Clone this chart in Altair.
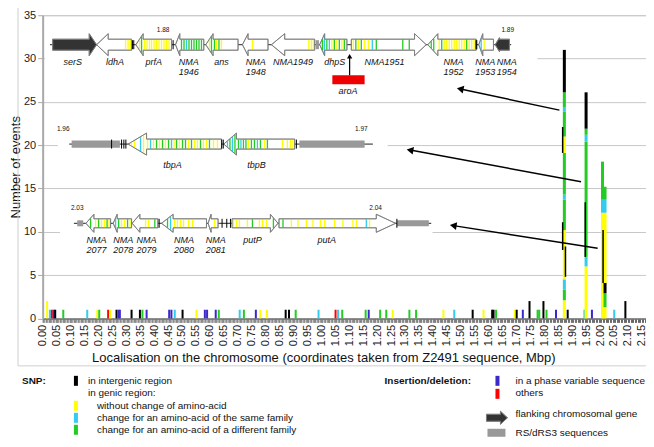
import altair as alt
import pandas as pd
import numpy as np

# ---------------- categories / colours ----------------
K, YL, CY, GR, BL, RD = ("intergenic", "synonymous", "same family", "different family",
                         "phase variable indel", "other indel")
CAT_DOMAIN = [K, YL, CY, GR, BL, RD]
CAT_COLORS = ["#000000", "#ffff00", "#33ccee", "#22cc22", "#3b28c8", "#ff0000"]
CMAP = dict(zip(CAT_DOMAIN, CAT_COLORS))

# ---------------- main chart: single events ----------------
LOW_POS = [0.016, 0.026, 0.033, 0.040, 0.045, 0.074, 0.160, 0.196, 0.203, 0.235, 0.243,
           0.265, 0.272, 0.277, 0.319, 0.349, 0.358, 0.373, 0.454, 0.462, 0.474, 0.502,
           0.552, 0.582, 0.590, 0.621, 0.632, 0.707, 0.722, 0.765, 0.781, 0.805, 0.872,
           0.884, 0.908, 0.990, 1.051, 1.060, 1.075, 1.159, 1.170, 1.211, 1.233, 1.256,
           1.316, 1.340, 1.438, 1.477, 1.543, 1.582, 1.613, 1.618, 1.627, 1.694, 1.701,
           1.723, 1.747, 1.776, 1.782, 1.797, 1.808, 1.842, 1.884, 1.944, 1.971, 2.051,
           2.091]
LOW_CAT = [YL, CY, RD, BL, K, GR, CY, YL, GR, RD, YL,
           K, BL, BL, K, K, GR, BL, BL, BL, CY, K,
           YL, BL, BL, BL, GR, CY, GR, BL, YL, YL, K,
           K, GR, CY, RD, CY, GR, GR, BL, GR, GR, YL,
           GR, GR, YL, CY, K, YL, K, K, GR, YL, K,
           BL, K, GR, GR, K, GR, BL, K, CY, BL, CY,
           K]
LOW_N = [2, 1, 1, 1, 1, 1, 1, 1, 1, 1, 1,
         1, 1, 1, 1, 1, 1, 1, 1, 1, 1, 1,
         1, 1, 1, 1, 1, 1, 1, 1, 1, 1, 1,
         1, 1, 1, 1, 1, 1, 1, 1, 1, 1, 1,
         1, 1, 1, 1, 1, 1, 1, 1, 1, 1, 1,
         1, 2, 1, 1, 2, 1, 1, 1, 1, 1, 1,
         2]

# hot spots (stacked, cumulative tops)
TALL_POS = [1.872, 1.950, 2.009, 2.018]
TALL_CATS = [
    [YL, GR, CY, YL, GR, CY, GR, YL, GR, CY, GR, K],
    [YL, CY, GR, CY, GR, K],
    [YL, CY, GR],
    [YL, GR, K, YL, CY, GR],
]
TALL_TOPS = [
    [2.1, 3.3, 4.5, 10.2, 13.7, 14.3, 19.1, 21.0, 23.9, 24.4, 26.1, 31.0],
    [6.0, 7.1, 20.4, 21.2, 21.9, 26.1],
    [12.2, 13.7, 18.1],
    [1.3, 2.9, 4.1, 12.2, 13.7, 15.2],
]
# thin intergenic runs beside the hot-spot bars
THIN_POS = [1.866, 1.866, 1.876, 1.947, 2.011]
THIN_LO = [19.1, 7.9, 4.8, 7.1, 4.1]
THIN_HI = [22.1, 11.1, 8.3, 13.4, 10.2]

bar_rows = []
for p, c, n in zip(LOW_POS, LOW_CAT, LOW_N):
    bar_rows.append(dict(x0=p - 0.0036, x1=p + 0.0036, y0=0, y1=n, cat=c))
for p, cats, tops in zip(TALL_POS, TALL_CATS, TALL_TOPS):
    lo = 0.0
    for c, t in zip(cats, tops):
        bar_rows.append(dict(x0=p - 0.0054, x1=p + 0.0054, y0=lo, y1=t, cat=c))
        lo = t
for p, lo, hi in zip(THIN_POS, THIN_LO, THIN_HI):
    bar_rows.append(dict(x0=p - 0.0027, x1=p + 0.0027, y0=lo, y1=hi, cat=K))
bars_df = pd.DataFrame(bar_rows)

TICKS = [round(i * 0.005, 3) for i in range(434)]
Y_TICKS = [0, 5, 10, 15, 20, 25, 30, 35]

XM = alt.Scale(domain=[0, 2.165], nice=False, zero=False)
YM = alt.Scale(domain=[0, 35], nice=False, zero=False)

x_axis = alt.Axis(values=TICKS,
                  labelExpr="round(datum.value*200) % 10 == 0 ? format(datum.value, '.2f') : ''",
                  labelAngle=270, labelFontSize=11, labelColor="#222", labelPadding=2,
                  labelOverlap=False, labelFlush=False, labelBound=False,
                  tickSize=4, tickColor="#666", tickWidth=1,
                  domainColor="#777", domainWidth=1.5, grid=False,
                  title="Localisation on the chromosome (coordinates taken from Z2491 sequence, Mbp)",
                  titleFontSize=13, titleFontWeight="normal", titleColor="#111",
                  titleX=281, titleY=39, titleAlign="center", titleBaseline="middle")
y_axis = alt.Axis(values=Y_TICKS, labelFontSize=11, labelColor="#222", labelPadding=2,
                  tickSize=5, tickColor="#aaa", domainColor="#aaa", domainWidth=2,
                  grid=True, gridColor="#c8c8c8",
                  title="Number of events", titleFontSize=13, titleFontWeight="normal",
                  titleColor="#111", titleX=-27, titleY=151.75, titleAngle=270,
                  titleAlign="center", titleBaseline="middle")

bars = alt.Chart(bars_df).mark_rect().encode(
    x=alt.X("x0:Q", scale=XM, axis=x_axis),
    x2="x1:Q",
    y=alt.Y("y0:Q", scale=YM, axis=y_axis),
    y2="y1:Q",
    color=alt.Color("cat:N", scale=alt.Scale(domain=CAT_DOMAIN, range=CAT_COLORS), legend=None),
)
main = alt.layer(bars)

# ---------------- inset gene maps (schematic units) ----------------
ROW_Y = {1: 29.5, 2: 129.0, 3: 208.3}
ROW_BODY = {1: 5.5, 2: 5.0, 3: 4.5}
ROW_HEAD = {1: 11.0, 2: 11.0, 3: 9.0}

# name, row, left, right, direction, head length, fill
GENES = [
    ("serS", 1, 10.0, 54.0, "R", 7.4, "#333333"),
    ("ldhA", 1, 54.0, 89.0, "L", 11.6, "white"),
    ("prfA", 1, 93.3, 129.0, "L", 7.3, "white"),
    ("NMA1946", 1, 133.0, 161.3, "L", 4.3, "white"),
    ("ans", 1, 163.3, 195.6, "L", 7.3, "white"),
    ("NMA1948", 1, 200.0, 225.6, "L", 5.6, "white"),
    ("NMA1949", 1, 229.0, 272.3, "L", 13.3, "white"),
    ("dhpS", 1, 277.3, 304.6, "L", 5.0, "white"),
    ("NMA1951", 1, 309.0, 384.0, "R", 11.7, "white"),
    ("NMA1952", 1, 385.6, 434.0, "L", 10.0, "white"),
    ("NMA1953", 1, 436.6, 451.3, "L", 4.0, "white"),
    ("NMA1954", 1, 453.0, 467.3, "L", 4.3, "#333333"),
    ("tbpA", 2, 85.6, 179.0, "L", 18.4, "white"),
    ("tbpB", 2, 181.3, 252.3, "L", 12.7, "white"),
    ("NMA2077", 3, 43.3, 68.0, "L", 8.0, "white"),
    ("NMA2078", 3, 70.6, 89.0, "L", 4.0, "white"),
    ("NMA2079", 3, 89.6, 115.3, "L", 7.7, "white"),
    ("NMA2080", 3, 119.0, 164.0, "L", 11.6, "white"),
    ("NMA2081", 3, 165.6, 175.6, "L", 3.0, "white"),
    ("putP", 3, 189.6, 235.6, "R", 7.6, "white"),
    ("putA", 3, 236.6, 353.3, "R", 19.3, "white"),
]

BACKBONES = [(1, 7.3, 469.0), (2, 26.6, 330.6), (3, 31.3, 389.0)]
RS_BOXES = [(1, 273.3, 276.6, 4.5), (2, 29.0, 77.3, 3.7), (2, 257.0, 322.3, 3.7),
            (3, 34.6, 40.6, 3.0), (3, 354.6, 386.6, 3.0)]
TICK_MARKS = [(1, 90.0), (1, 91.2), (1, 130.6), (1, 433.8), (1, 434.6),
              (2, 69.0), (2, 79.0), (2, 81.3), (2, 83.3), (2, 179.3), (2, 180.8), (2, 254.0),
              (3, 116.6), (3, 179.6), (3, 184.3), (3, 188.0), (3, 354.6)]

STRIPES = [
    # row 1
    (1, 83, YL), (1, 85.5, YL), (1, 88, YL),
    (1, 97, YL), (1, 99, GR), (1, 102, YL), (1, 104.5, YL), (1, 107, YL), (1, 109, YL),
    (1, 111.5, YL), (1, 114, YL), (1, 116.5, YL), (1, 119, YL), (1, 121.5, YL), (1, 124, YL),
    (1, 126.5, YL),
    (1, 139, GR), (1, 141.5, GR), (1, 144, CY), (1, 146.5, GR), (1, 149, GR), (1, 151.5, GR),
    (1, 154, GR), (1, 156.5, GR), (1, 159, GR),
    (1, 167, YL), (1, 169, GR), (1, 172, GR), (1, 174, YL), (1, 176.5, GR), (1, 179, YL),
    (1, 210, YL),
    (1, 266.5, YL), (1, 269, YL), (1, 271, YL),
    (1, 280, GR), (1, 282, CY), (1, 284.5, GR), (1, 287, CY), (1, 289.5, YL), (1, 292, GR),
    (1, 294.5, YL), (1, 297, GR), (1, 299.5, YL), (1, 302, GR),
    (1, 311, YL), (1, 313.5, GR), (1, 316, YL), (1, 319, GR), (1, 322, YL), (1, 326, YL),
    (1, 330, CY), (1, 334, GR), (1, 360.5, GR), (1, 367, GR),
    (1, 389, GR), (1, 391.5, GR), (1, 397, YL), (1, 399.5, GR), (1, 402, YL), (1, 404.5, YL),
    (1, 407, YL), (1, 409.5, YL), (1, 412, YL), (1, 414.5, YL), (1, 417, YL), (1, 419.5, YL),
    (1, 422, YL), (1, 424.5, GR), (1, 427, YL), (1, 429.5, YL), (1, 432, YL),
    (1, 439, CY), (1, 442, YL),
    # row 2
    (2, 89, YL), (2, 92, YL), (2, 98, CY), (2, 101, YL), (2, 105, YL), (2, 108, CY), (2, 111, YL),
    (2, 114, GR), (2, 117, YL), (2, 120, GR), (2, 123, YL), (2, 126, GR), (2, 129, CY),
    (2, 131.5, YL), (2, 134, GR), (2, 137, YL), (2, 140, GR), (2, 143, GR), (2, 146, YL),
    (2, 149, GR), (2, 152, YL), (2, 155, YL), (2, 158, GR), (2, 161, YL), (2, 164, YL),
    (2, 167, GR), (2, 171, YL), (2, 175, YL),
    (2, 185, CY), (2, 187.5, GR), (2, 190, CY), (2, 192.5, GR), (2, 196, GR), (2, 198.5, CY),
    (2, 201, GR), (2, 203.5, GR), (2, 206, YL), (2, 209, GR), (2, 212, GR), (2, 215, CY),
    (2, 218, GR), (2, 222, YL), (2, 225, GR), (2, 240, YL), (2, 245, YL), (2, 248, YL),
    (2, 250.5, YL),
    # row 3
    (3, 48, GR), (3, 53, YL), (3, 56, GR), (3, 59, YL), (3, 62, YL), (3, 64.5, GR), (3, 66.5, YL),
    (3, 73, CY), (3, 76, GR), (3, 79, YL), (3, 82, YL), (3, 85, GR), (3, 87.5, YL),
    (3, 103, YL), (3, 106, YL), (3, 112.3, GR),
    (3, 125, GR), (3, 128, CY), (3, 132, YL), (3, 135, YL), (3, 138, YL), (3, 141, YL),
    (3, 146, YL), (3, 150, YL),
    (3, 172, YL),
    (3, 191, YL), (3, 194, YL), (3, 197, YL), (3, 205, YL), (3, 210, GR), (3, 217, YL),
    (3, 220, YL), (3, 224, YL), (3, 231, GR),
    (3, 240.6, GR), (3, 249, YL), (3, 255.6, YL), (3, 264, YL), (3, 270.6, YL), (3, 278, YL),
    (3, 282.3, YL), (3, 292.3, YL), (3, 300.6, YL), (3, 310.6, YL), (3, 314, YL), (3, 324, CY),
    (3, 327.3, YL),
]

GENE_LABELS = [
    ("serS", 30, 46.7), ("ldhA", 72.3, 46.7), ("prfA", 111.3, 46.7),
    ("NMA", 146.3, 46.7), ("1946", 146.3, 56.7), ("ans", 179, 46.7),
    ("NMA", 213.3, 46.7), ("1948", 213.3, 56.7), ("NMA1949", 250.6, 46.7),
    ("dhpS", 292.3, 46.7), ("NMA1951", 342.3, 46.7),
    ("NMA", 411.3, 46.7), ("1952", 411.3, 56.7), ("NMA", 443, 46.7), ("1953", 443, 56.7),
    ("NMA", 464.6, 46.7), ("1954", 464.6, 56.7), ("aroA", 305.6, 75.7),
    ("tbpA", 130, 150), ("tbpB", 214, 150),
    ("NMA", 54, 225), ("2077", 54, 235.3), ("NMA", 80.6, 225), ("2078", 80.6, 235.3),
    ("NMA", 104, 225), ("2079", 104, 235.3), ("NMA", 141.6, 225), ("2080", 141.6, 235.3),
    ("NMA", 173.3, 225), ("2081", 173.3, 235.3), ("putP", 210, 225), ("putA", 284.3, 225),
]
COORD_LABELS = [("1.88", 120.6, 14.3), ("1.89", 465.6, 14.3), ("1.96", 20.6, 114.3),
                ("1.97", 319, 114.3), ("2.03", 34.6, 192.7), ("2.04", 333.3, 192.7)]

WHITE_BOXES = [(2.3, 495.3, 5, 82), (15.3, 345.3, 110, 155), (17.3, 390.3, 185, 241)]
FRAME = [(-24.7, 609.3, -12, 351)]
AROA_BOX = [(290.0, 322.3, 60.0, 69.0)]
AROA_ARROW = [(307.3, 60.0, 307.3, 41.0)]
POINTERS = [(517.3, 95.0, 414.3, 73.0), (539.0, 166.7, 364.0, 134.3),
            (555.6, 233.3, 407.3, 210.0)]

# legend (schematic units)
LEG_BOLD = [("SNP:", -20.7, 366), ("Insertion/deletion:", 342.3, 366)]
LEG_TEXT = [("in intergenic region", 45.3, 366), ("in genic region:", 45.3, 378),
            ("without change of amino-acid", 54.3, 391),
            ("change for an amino-acid of the same family", 54.3, 403),
            ("change for an amino-acid of a different family", 54.3, 415),
            ("in a phase variable sequence", 473.3, 366), ("others", 473.3, 378),
            ("flanking chromosomal gene", 473.3, 399), ("RS/dRS3 sequences", 473.3, 418)]
LEG_SWATCH = [(31.3, 35.3, 361, 371, K), (31.3, 35.3, 386, 396, YL),
              (31.3, 35.3, 398, 408, CY), (31.3, 35.3, 410, 420, GR),
              (453.3, 457.3, 361, 371, BL), (453.3, 457.3, 374, 384, RD)]
LEG_RS = [(445.3, 463.3, 414, 422)]
LEG_ARROW = [("flank", 444.3, 465.3, 403.0, 3.5, 6.5, 7.0)]


def arrow_points(xl, xr, d, hl, cy, bh, hh):
    e = 0.01
    if d == "L":
        return [(xl, cy, cy), (xl + hl, cy - hh, cy + hh), (xl + hl + e, cy - bh, cy + bh),
                (xr, cy - bh, cy + bh)]
    return [(xl, cy - bh, cy + bh), (xr - hl - e, cy - bh, cy + bh), (xr - hl, cy - hh, cy + hh),
            (xr, cy, cy)]


poly = []
for name, row, xl, xr, d, hl, fill in GENES:
    hh = 7.0 if name == "NMA1954" else ROW_HEAD[row]
    for k, (x, a, b) in enumerate(arrow_points(xl, xr, d, hl, ROW_Y[row], ROW_BODY[row], hh)):
        poly.append(dict(g=name, k=k, x=x, lo=a, hi=b, fill=fill))
for name, xl, xr, cy, bh, hh, hl in LEG_ARROW:
    for k, (x, a, b) in enumerate(arrow_points(xl, xr, "R", hl, cy, bh, hh)):
        poly.append(dict(g=name, k=k, x=x, lo=a, hi=b, fill="#333333"))
poly_df = pd.DataFrame(poly)

stripe_rows = []
for row, x, c in STRIPES:
    cy, bh = ROW_Y[row], ROW_BODY[row]
    half = bh
    for name, r, xl, xr, d, hl, fill in GENES:
        if r == row and xl <= x <= xr:
            hh = ROW_HEAD[row]
            dist = (x - xl) if d == "L" else (xr - x)
            if dist < hl:
                half = hh * dist / hl
            break
    half = max(half - 0.4, 0.8)
    stripe_rows.append(dict(x0=x - 0.65, x1=x + 0.65, y0=cy - half, y1=cy + half, col=CMAP[c]))
stripe_df = pd.DataFrame(stripe_rows)

bb_df = pd.DataFrame([dict(x0=a, x1=b, y=ROW_Y[r]) for r, a, b in BACKBONES])
rs_df = pd.DataFrame([dict(x0=a, x1=b, y0=ROW_Y[r] - h, y1=ROW_Y[r] + h) for r, a, b, h in RS_BOXES]
                     + [dict(x0=a, x1=b, y0=c, y1=d) for a, b, c, d in LEG_RS])
tick_df = pd.DataFrame([dict(x=x, y0=ROW_Y[r] - 4.5, y1=ROW_Y[r] + 4.5) for r, x in TICK_MARKS])
glab_df = pd.DataFrame(GENE_LABELS, columns=["t", "x", "y"])
clab_df = pd.DataFrame(COORD_LABELS, columns=["t", "x", "y"])
wbox_df = pd.DataFrame(WHITE_BOXES, columns=["x0", "x1", "y0", "y1"])
frame_df = pd.DataFrame(FRAME, columns=["x0", "x1", "y0", "y1"])
aroa_df = pd.DataFrame(AROA_BOX, columns=["x0", "x1", "y0", "y1"])
aroa_ar_df = pd.DataFrame(AROA_ARROW, columns=["x0", "y0", "x1", "y1"])

ptr = []
for x0, y0, x1, y1 in POINTERS:
    L = np.hypot(x1 - x0, y1 - y0)
    ux, uy = (x1 - x0) / L, (y1 - y0) / L
    ang = float(np.degrees(np.arctan2(uy, ux)) % 360)
    ptr.append(dict(x0=x0, y0=y0, x1=x1 - ux * 4, y1=y1 - uy * 4,
                    hx=x1 - ux * 3.8, hy=y1 - uy * 3.8, ang=ang))
ptr_df = pd.DataFrame(ptr)
lb_df = pd.DataFrame(LEG_BOLD, columns=["t", "x", "y"])
lt_df = pd.DataFrame(LEG_TEXT, columns=["t", "x", "y"])
ls_df = pd.DataFrame([dict(x0=a, x1=b, y0=c, y1=d, col=CMAP[k]) for a, b, c, d, k in LEG_SWATCH])

XS = alt.Scale(domain=[0, 604], nice=False, zero=False)
YS = alt.Scale(domain=[0, 303.5], nice=False, zero=False, reverse=True)


def SX(f):
    return alt.X(f, type="quantitative", scale=XS, axis=None)


def SY(f):
    return alt.Y(f, type="quantitative", scale=YS, axis=None)


frame = alt.Chart(frame_df).mark_rect(fillOpacity=0, stroke="#cfcfcf", strokeWidth=1).encode(
    x=SX("x0"), x2="x1", y=SY("y0"), y2="y1")
wbox = alt.Chart(wbox_df).mark_rect(color="white").encode(
    x=SX("x0"), x2="x1", y=SY("y0"), y2="y1")
backbone = alt.Chart(bb_df).mark_rule(color="#222", strokeWidth=1).encode(
    x=SX("x0"), x2="x1", y=SY("y"))
rs = alt.Chart(rs_df).mark_rect(color="#999999").encode(
    x=SX("x0"), x2="x1", y=SY("y0"), y2="y1")
gene_fill = alt.Chart(poly_df).mark_area(stroke="#7a7a7a", strokeWidth=0.8).encode(
    x=SX("x"), y=SY("lo"), y2="hi", detail="g:N", fill=alt.Fill("fill:N", scale=None))
stripes = alt.Chart(stripe_df).mark_rect().encode(
    x=SX("x0"), x2="x1", y=SY("y0"), y2="y1", fill=alt.Fill("col:N", scale=None))
gene_line = alt.Chart(poly_df).mark_area(fillOpacity=0, stroke="#7a7a7a", strokeWidth=0.8).encode(
    x=SX("x"), y=SY("lo"), y2="hi", detail="g:N")
ticks = alt.Chart(tick_df).mark_rule(color="black", strokeWidth=1).encode(
    x=SX("x"), y=SY("y0"), y2="y1")
glab = alt.Chart(glab_df).mark_text(fontSize=9, fontStyle="italic", color="#111",
                                    align="center", baseline="middle").encode(
    x=SX("x"), y=SY("y"), text="t:N")
clab = alt.Chart(clab_df).mark_text(fontSize=6.5, color="#111", align="center",
                                    baseline="middle").encode(
    x=SX("x"), y=SY("y"), text="t:N")
aroa = alt.Chart(aroa_df).mark_rect(color="#ee0000").encode(
    x=SX("x0"), x2="x1", y=SY("y0"), y2="y1")
aroa_line = alt.Chart(aroa_ar_df).mark_rule(color="black", strokeWidth=1.2).encode(
    x=SX("x0"), y=SY("y0"), y2="y1")
aroa_head = alt.Chart(aroa_ar_df).mark_point(shape="triangle-up", filled=True, size=28,
                                             color="black", opacity=1).encode(
    x=SX("x1"), y=SY("y1"))
ptr_line = alt.Chart(ptr_df).mark_rule(color="black", strokeWidth=1.5).encode(
    x=SX("x0"), y=SY("y0"), x2="x1", y2="y1")
ptr_head = alt.Chart(ptr_df).mark_point(shape="triangle-right", filled=True, size=60,
                                        color="black", opacity=1).encode(
    x=SX("hx"), y=SY("hy"), angle=alt.Angle("ang:Q", scale=None))
leg_bold = alt.Chart(lb_df).mark_text(fontSize=10, fontWeight="bold", align="left",
                                      baseline="middle", color="#111").encode(
    x=SX("x"), y=SY("y"), text="t:N")
leg_text = alt.Chart(lt_df).mark_text(fontSize=10, align="left", baseline="middle",
                                      color="#111").encode(
    x=SX("x"), y=SY("y"), text="t:N")
leg_sw = alt.Chart(ls_df).mark_rect().encode(
    x=SX("x0"), x2="x1", y=SY("y0"), y2="y1", fill=alt.Fill("col:N", scale=None))

inset = alt.layer(frame, wbox, backbone, rs, gene_fill, stripes, gene_line, ticks, glab, clab,
                  aroa, aroa_line, aroa_head, ptr_line, ptr_head, leg_bold, leg_text, leg_sw)

chart = alt.layer(main, inset).resolve_scale(x="independent", y="independent").properties(
    width=604, height=303.5,
    autosize=alt.AutoSizeParams(type="none"),
    padding={"left": 34.7, "top": 7, "right": 0, "bottom": 121},
).configure(font="Liberation Sans").configure_view(stroke="#d0d0d0")

chart.save("out.html", embed_options={"renderer": "svg", "actions": False})
